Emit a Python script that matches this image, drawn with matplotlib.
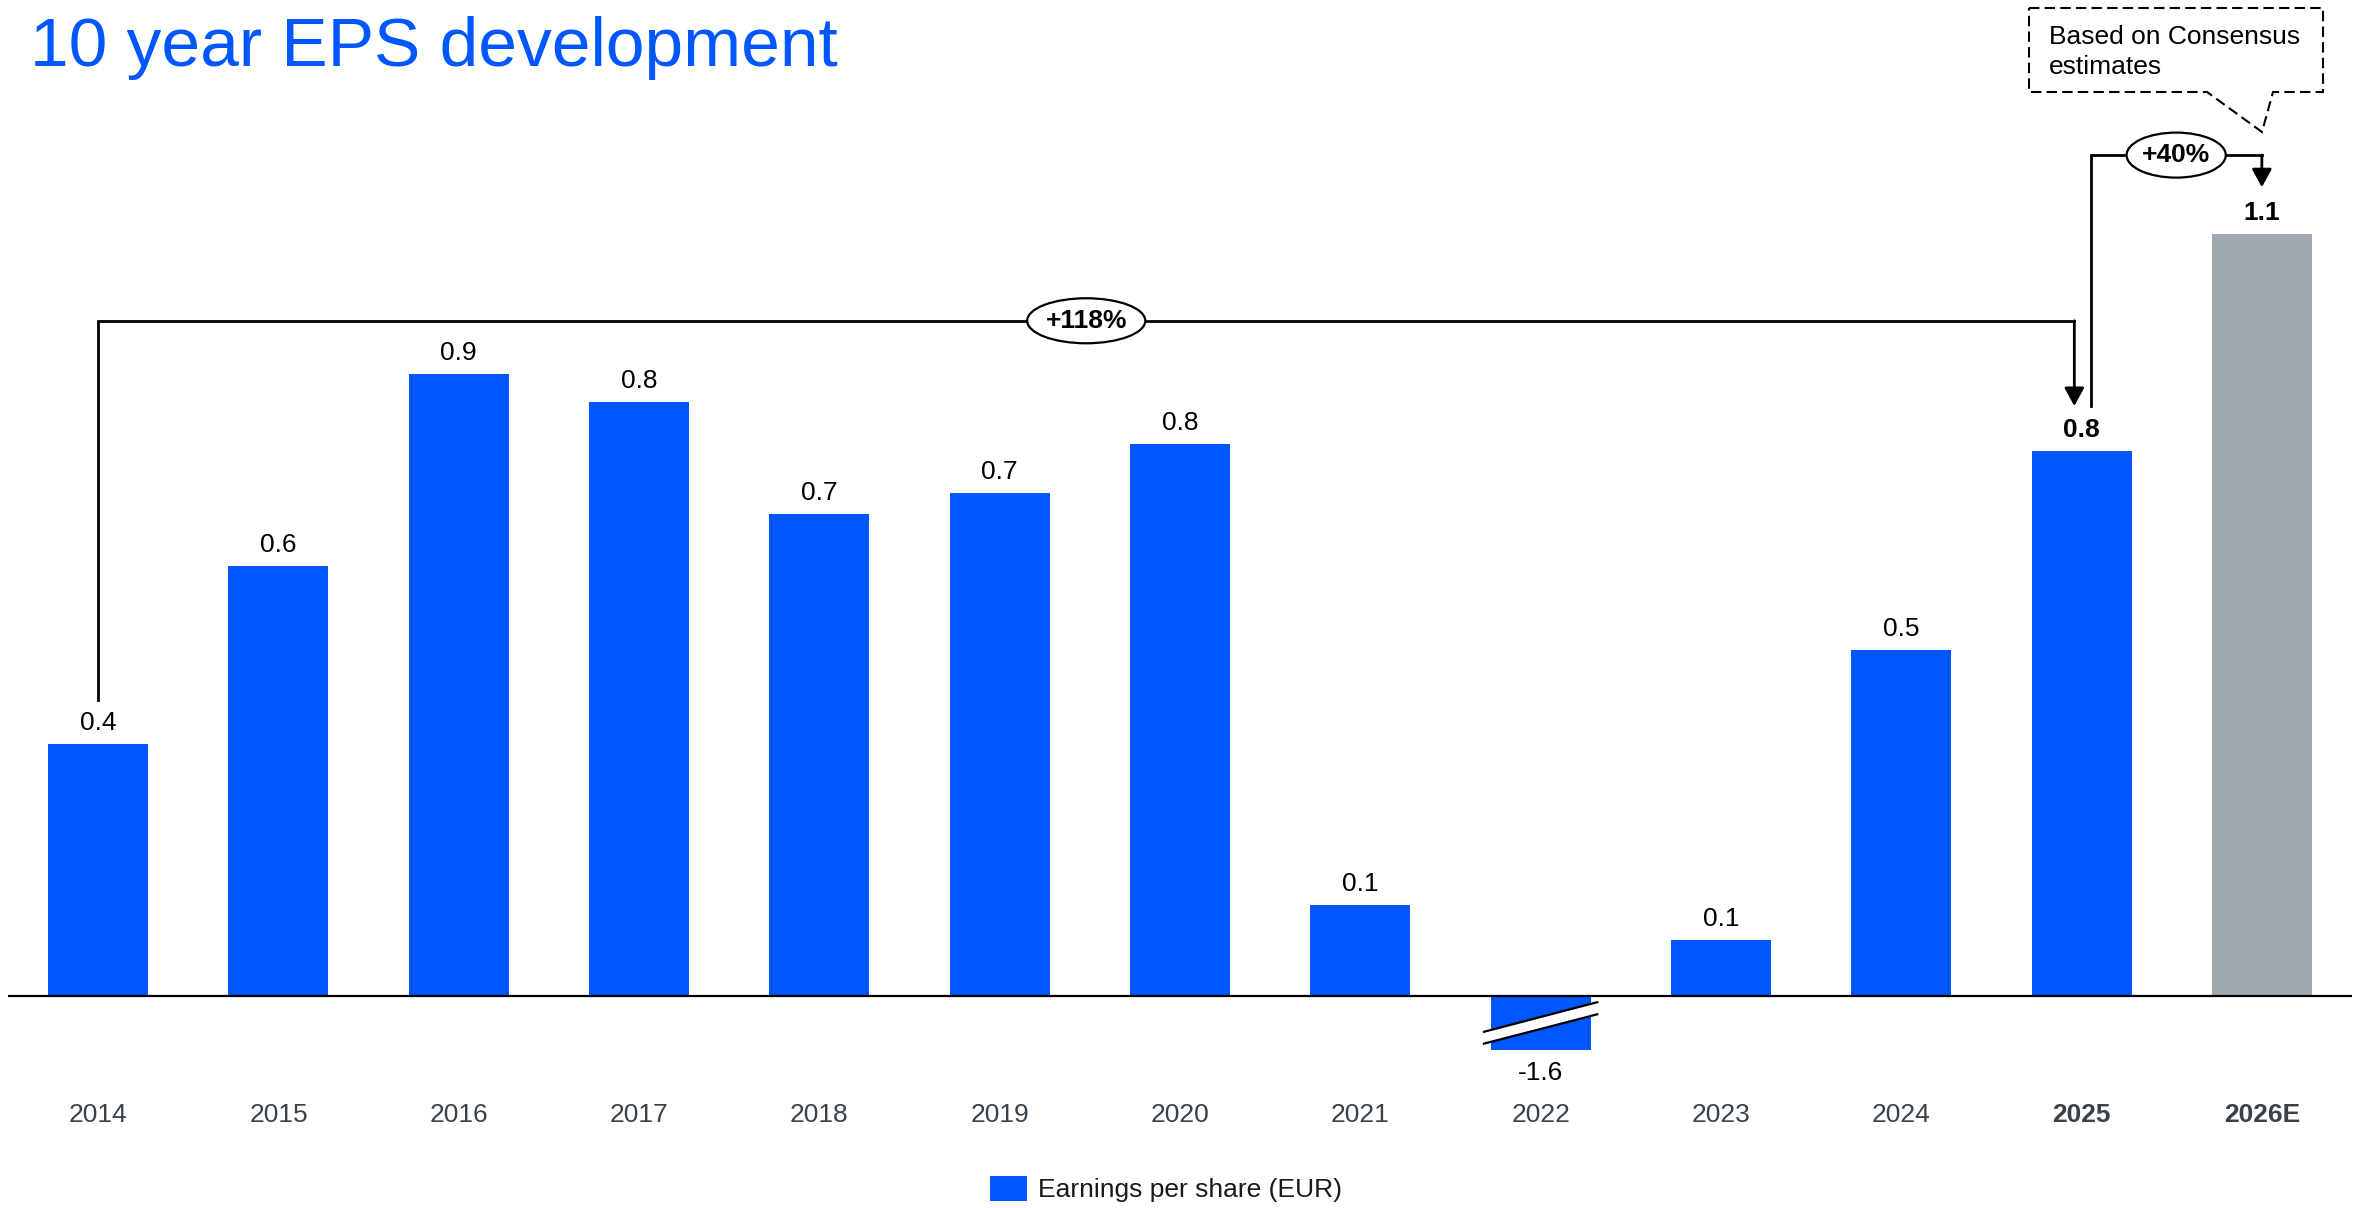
import matplotlib
matplotlib.use("Agg")
import matplotlib.pyplot as plt
from matplotlib.patches import Ellipse, Polygon, Patch

plt.rcParams['font.family'] = ['Liberation Sans', 'DejaVu Sans']

# ---------------- data ----------------
years = ["2014", "2015", "2016", "2017", "2018", "2019", "2020",
         "2021", "2022", "2023", "2024", "2025", "2026E"]
eps = [0.36, 0.615, 0.89, 0.85, 0.69, 0.72, 0.79,
       0.13, -1.6, 0.08, 0.495, 0.78, 1.09]
labels = ["0.4", "0.6", "0.9", "0.8", "0.7", "0.7", "0.8",
          "0.1", "-1.6", "0.1", "0.5", "0.8", "1.1"]
bold_years = ["2025", "2026E"]
estimate_years = ["2026E"]
growth_10y = "+118%"
growth_1y = "+40%"
legend_label = "Earnings per share (EUR)"
title = "10 year EPS development"
note = "Based on Consensus\nestimates"

# ---------------- style ----------------
W, H = 2367, 1208
BLUE = "#0057ff"
GREY = "#a2a8af"
TICK = "#37424a"
FS = 19
neg_clip = -0.077          # negative bar is truncated (axis break)

fig = plt.figure(figsize=(W / 100, H / 100), dpi=100)

# axes placement in pixels
ax_left, ax_right = 8, 2352
ax_top, ax_bot = 130, 1060
base_px = 996
ppu = 699.0  # pixels per EPS unit
ax = fig.add_axes([ax_left / W, 1 - ax_bot / H, (ax_right - ax_left) / W, (ax_bot - ax_top) / H])
ax.set_xlim(-0.5, len(years) - 0.5)
ax.set_ylim(-(ax_bot - base_px) / ppu, (base_px - ax_top) / ppu)
for s in ax.spines.values():
    s.set_visible(False)
ax.set_yticks([])

x = list(range(len(years)))
shown = [max(v, neg_clip) for v in eps]
colors = [GREY if y in estimate_years else BLUE for y in years]
bw = 0.555
ax.bar(x, shown, width=bw, color=colors, zorder=2)
ax.axhline(0, color="black", lw=1.6, zorder=3)

# value labels
for xi, v, s, lab, yr in zip(x, eps, shown, labels, years):
    if v >= 0:
        ax.annotate(lab, (xi, s), xytext=(0, 21), textcoords="offset pixels",
                    ha="center", va="center", fontsize=FS, color="black",
                    fontweight="bold" if yr in bold_years else "normal")
    else:
        ax.annotate(lab, (xi, s), xytext=(0, -23), textcoords="offset pixels",
                    ha="center", va="center", fontsize=FS, color="black")
        # break marks across the truncated bar
        dx = 0.32
        y1a, y1b = s * 0.67, s * 0.11
        y2a, y2b = s * 0.89, s * 0.335
        ax.add_patch(Polygon([(xi - dx, y1a), (xi + dx, y1b), (xi + dx, y2b), (xi - dx, y2a)],
                             closed=True, facecolor="white", edgecolor="none", zorder=4))
        ax.plot([xi - dx, xi + dx], [y1a, y1b], color="black", lw=1.6, zorder=5, solid_capstyle="butt")
        ax.plot([xi - dx, xi + dx], [y2a, y2b], color="black", lw=1.6, zorder=5, solid_capstyle="butt")

# x tick labels
ax.set_xticks(x)
ax.set_xticklabels(years, fontsize=FS, color=TICK)
for t in ax.get_xticklabels():
    if t.get_text() in bold_years:
        t.set_fontweight("bold")
ax.tick_params(axis="x", length=0, pad=31)

# ---------------- growth brackets ----------------
gap = 0.064
i0, i1, i2 = 0, years.index("2025"), years.index("2026E")
y_line1 = 0.966
y_line2 = 1.203
arrow_kw = dict(arrowstyle="-|>,head_length=0.55,head_width=0.3", mutation_scale=20,
                lw=2, color="black", shrinkA=0, shrinkB=0)

xa = i1 - 0.04
ax.plot([i0, i0, xa], [eps[i0] + gap, y_line1, y_line1], color="black", lw=2,
        solid_joinstyle="miter", zorder=3)
ax.annotate("", xy=(xa, eps[i1] + gap), xytext=(xa, y_line1), arrowprops=arrow_kw)
ax.add_patch(Ellipse(((i0 + xa) / 2, y_line1), 0.655, 0.0644, facecolor="white",
                     edgecolor="black", lw=1.6, zorder=6))
ax.text((i0 + xa) / 2, y_line1, growth_10y, ha="center", va="center", fontsize=FS,
        fontweight="bold", zorder=7)

xb = i1 + 0.05
ax.plot([xb, xb, i2], [eps[i1] + gap, y_line2, y_line2], color="black", lw=2,
        solid_joinstyle="miter", zorder=3)
ax.annotate("", xy=(i2, eps[i2] + 0.067), xytext=(i2, y_line2), arrowprops=arrow_kw)
ax.add_patch(Ellipse(((xb + i2) / 2, y_line2), 0.55, 0.0644, facecolor="white",
                     edgecolor="black", lw=1.6, zorder=6))
ax.text((xb + i2) / 2, y_line2, growth_1y, ha="center", va="center", fontsize=FS,
        fontweight="bold", zorder=7)

# ---------------- callout box ----------------
def fp(px, py):
    return (px / W, 1 - py / H)

callout = [fp(2029, 8), fp(2323, 8), fp(2323, 92), fp(2273, 92), fp(2262, 132),
           fp(2207, 92), fp(2029, 92)]
fig.patches.append(Polygon(callout, closed=True, transform=fig.transFigure,
                           facecolor="white", edgecolor="black", lw=1.5,
                           linestyle=(0, (5, 2.5))))
fig.text(*fp(2049, 52), note, ha="left", va="center", fontsize=FS, color="black",
         linespacing=1.3)

# ---------------- title ----------------
fig.text(*fp(30, 66), title, ha="left", va="baseline", fontsize=50, color=BLUE)

# ---------------- legend ----------------
fig.legend(handles=[Patch(facecolor=BLUE, edgecolor="none", label=legend_label)],
           loc="center", bbox_to_anchor=fp(1166, 1189), frameon=False,
           fontsize=FS, handlelength=1.4, handleheight=1.1, handletextpad=0.45,
           labelcolor="#1a1a1a")

fig.savefig("out.png", dpi=100, facecolor="white")
